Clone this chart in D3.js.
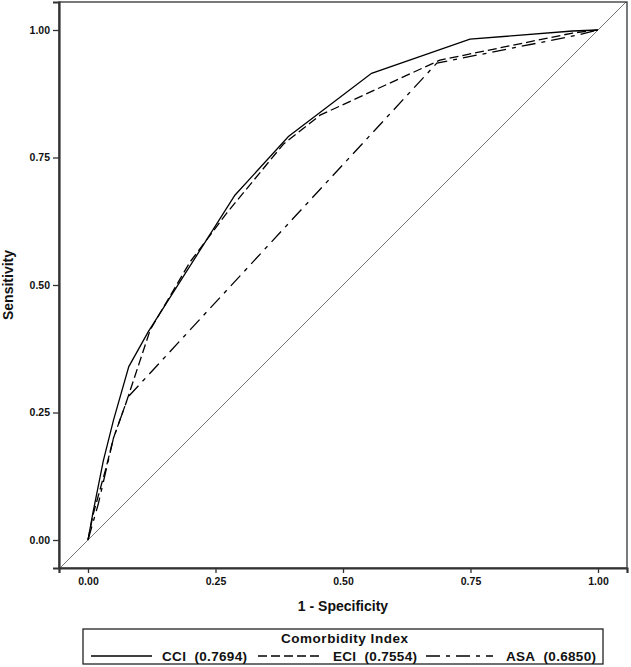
<!DOCTYPE html>
<html><head><meta charset="utf-8">
<script src="https://cdn.jsdelivr.net/npm/d3@7"></script>
<style>
html,body{margin:0;padding:0;background:#fff;}
text{font-family:"Liberation Sans",Arial,sans-serif;font-weight:bold;fill:#111;}
</style></head>
<body><svg id="c" width="631" height="667"></svg>
<script>
// ROC curve points [1 - specificity, sensitivity]
const cciX = [0, 0.010, 0.030, 0.050, 0.080, 0.118, 0.288, 0.393, 0.556, 0.749, 0.950, 1];
const cciY = [0, 0.055, 0.155, 0.235, 0.340, 0.408, 0.676, 0.791, 0.915, 0.982, 0.998, 1];
const eciX = [0, 0.010, 0.035, 0.050, 0.075, 0.122, 0.200, 0.272, 0.383, 0.455, 0.690, 0.950, 1];
const eciY = [0, 0.050, 0.140, 0.200, 0.270, 0.412, 0.545, 0.641, 0.776, 0.833, 0.941, 0.994, 1];
const asaX = [0, 0.020, 0.050, 0.079, 0.684, 0.960, 1];
const asaY = [0, 0.070, 0.200, 0.281, 0.935, 0.990, 1];
const seriesNames = ["CCI", "ECI", "ASA"];
const seriesAUC = ["0.7694", "0.7554", "0.6850"];
const tickValues = [0, 0.25, 0.5, 0.75, 1];
const legendTitle = "Comorbidity Index";
const xTitle = "1 - Specificity";
const yTitle = "Sensitivity";

const svg = d3.select("#c");
const L = 59, R = 627, T = 2, B = 568;
const x = d3.scaleLinear().domain([-29/510, 539/510]).range([L, R]);
const y = d3.scaleLinear().domain([-28/510, 538/510]).range([B, T]);

svg.append("clipPath").attr("id","clip").append("rect")
  .attr("x",L).attr("y",T).attr("width",R-L).attr("height",B-T);

// diagonal reference
svg.append("line").attr("clip-path","url(#clip)")
  .attr("x1", x(-0.06)).attr("y1", y(-0.06))
  .attr("x2", x(1.06)).attr("y2", y(1.06))
  .attr("stroke","#777").attr("stroke-width",1);

const series = [
  {xs: cciX, ys: cciY, dash: null},
  {xs: eciX, ys: eciY, dash: "9,4"},
  {xs: asaX, ys: asaY, dash: "14,6,4,6"}
];
const line = d3.line().x(d=>x(d[0])).y(d=>y(d[1]));
series.forEach(s=>{
  const pts = s.xs.map((v,i)=>[v, s.ys[i]]);
  svg.append("path").attr("d", line(pts))
    .attr("fill","none").attr("stroke","#000").attr("stroke-width",1.3)
    .attr("stroke-dasharray", s.dash);
});

// frame
svg.append("rect").attr("x",L).attr("y",T).attr("width",R-L).attr("height",B-T)
  .attr("fill","none").attr("stroke","#333").attr("stroke-width",1.3);

// axes
const fmt = d3.format(".2f");
const yAxis = svg.append("g").attr("transform",`translate(${L},0)`)
  .call(d3.axisLeft(y).tickValues(tickValues).tickFormat(fmt).tickSize(6).tickPadding(3));
const xAxis = svg.append("g").attr("transform",`translate(0,${B})`)
  .call(d3.axisBottom(x).tickValues(tickValues).tickFormat(fmt).tickSize(5).tickPadding(5));
[yAxis, xAxis].forEach(a=>{
  a.select(".domain").attr("stroke","#333").attr("stroke-width",2.2);
  a.selectAll(".tick line").attr("stroke","#333").attr("stroke-width",1.3);
  a.selectAll(".tick text").style("font-size","10.5px").attr("fill","#111");
});

// axis titles
svg.append("text").attr("x", (L+R)/2).attr("y", 611).attr("text-anchor","middle")
  .style("font-size","14px").text(xTitle);
svg.append("text").attr("transform",`translate(13,${(T+B)/2}) rotate(-90)`)
  .attr("text-anchor","middle").style("font-size","14px").text(yTitle);

// legend
const lg = svg.append("g");
lg.append("rect").attr("x",83).attr("y",629).attr("width",520).attr("height",35)
  .attr("fill","none").attr("stroke","#222").attr("stroke-width",1.3);
lg.append("text").attr("x",281).attr("y",643)
  .attr("textLength",127).attr("lengthAdjust","spacing")
  .style("font-size","13.5px").text(legendTitle);
const entries = [
  {x1: 91, x2: 152, tx: 162, tw: 85},
  {x1: 258, x2: 323, tx: 333, tw: 84},
  {x1: 426, x2: 493, tx: 506, tw: 90}
];
entries.forEach((e,i)=>{
  lg.append("line").attr("x1",e.x1).attr("x2",e.x2).attr("y1",656).attr("y2",656)
    .attr("stroke","#000").attr("stroke-width",1.3)
    .attr("stroke-dasharray", series[i].dash);
  lg.append("text").attr("x",e.tx).attr("y",661).style("font-size","13.5px")
    .attr("textLength",e.tw).attr("lengthAdjust","spacing")
    .text(seriesNames[i] + "\u00a0\u00a0(" + seriesAUC[i] + ")");
});
</script></body></html>
